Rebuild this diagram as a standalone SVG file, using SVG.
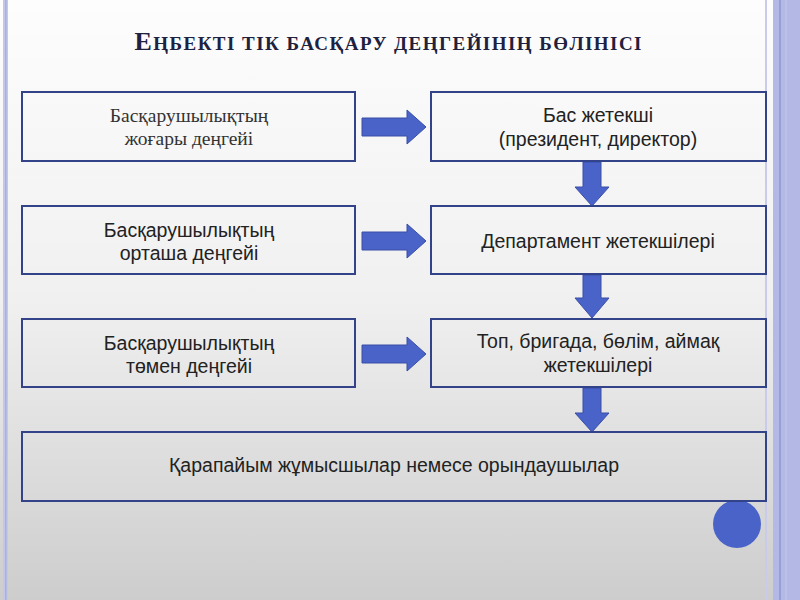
<svg xmlns="http://www.w3.org/2000/svg" width="800" height="600" viewBox="0 0 800 600">
<defs>
<linearGradient id="bg" x1="0" y1="0" x2="0" y2="1">
<stop offset="0" stop-color="#fdfdfd"/>
<stop offset="0.5" stop-color="#f0f0f0"/>
<stop offset="1" stop-color="#cdcdcd"/>
</linearGradient>
</defs>
<style>
.box{fill:none;stroke:#33438a;stroke-width:2}
.arr{fill:#4a63c8;stroke:#3a4fa6;stroke-width:1}
.serif{font-family:"Liberation Serif","Times New Roman",serif;font-size:19.5px;fill:#333;text-anchor:middle}
.sans{font-family:"Liberation Sans",Arial,sans-serif;font-size:19.5px;fill:#222;text-anchor:middle}
.title{font-family:"Liberation Serif","Times New Roman",serif;font-weight:bold;fill:#1e2240;text-anchor:middle}
</style>
<rect x="0" y="0" width="800" height="600" fill="url(#bg)"/>
<g id="decor">
<rect x="3" y="0" width="5" height="600" fill="#c3c7ea"/>
<rect x="5" y="0" width="1.5" height="600" fill="#a9afe0"/>
<rect x="765" y="0" width="2" height="600" fill="#c8cbea"/>
<rect x="773" y="0" width="27" height="600" fill="#b3b8e4"/>
<rect x="779" y="0" width="2" height="600" fill="#979ed8"/>
<rect x="785" y="0" width="2" height="600" fill="#bcc0e8"/>
<circle cx="737" cy="524" r="24" fill="#4a63c8"/>
</g>
<text class="title" x="388" y="50" textLength="507" lengthAdjust="spacing"><tspan font-size="26">Е</tspan><tspan font-size="19">ҢБЕКТІ ТІК БАСҚАРУ ДЕҢГЕЙІНІҢ БӨЛІНІСІ</tspan></text>
<g id="connectors">
<path class="arr" d="M362,118 H407 V110 L426,127 L407,144 V136 H362 Z"/>
<path class="arr" d="M362,232 H407 V224 L426,241 L407,258 V250 H362 Z"/>
<path class="arr" d="M362,345 H407 V337 L426,354 L407,371 V363 H362 Z"/>
<path class="arr" d="M583,162 V187 H575 L592,206 L609,187 H601 V162 Z"/>
<path class="arr" d="M583,275 V298 H575 L592,318 L609,298 H601 V275 Z"/>
<path class="arr" d="M583,388 V413 H575 L592,432 L609,413 H601 V388 Z"/>
</g>
<g id="left-top">
<rect class="box" x="22" y="92" width="333" height="69"/>
<text class="serif" x="189" y="122">Басқарушылықтың</text>
<text class="serif" x="189" y="145">жоғары деңгейі</text>
</g>
<g id="left-mid">
<rect class="box" x="22" y="206" width="333" height="68"/>
<text class="sans" x="189" y="237">Басқарушылықтың</text>
<text class="sans" x="189" y="260">орташа деңгейі</text>
</g>
<g id="left-low">
<rect class="box" x="22" y="319" width="333" height="68"/>
<text class="sans" x="189" y="350">Басқарушылықтың</text>
<text class="sans" x="189" y="373">төмен деңгейі</text>
</g>
<g id="right-top">
<rect class="box" x="431" y="92" width="335" height="69"/>
<text class="sans" x="598" y="122">Бас жетекші</text>
<text class="sans" x="598" y="146">(президент, директор)</text>
</g>
<g id="right-mid">
<rect class="box" x="431" y="206" width="335" height="68"/>
<text class="sans" x="598" y="248">Департамент жетекшілері</text>
</g>
<g id="right-low">
<rect class="box" x="431" y="319" width="335" height="68"/>
<text class="sans" x="598" y="348">Топ, бригада, бөлім, аймақ</text>
<text class="sans" x="598" y="372">жетекшілері</text>
</g>
<g id="bottom">
<rect class="box" x="22" y="432" width="744" height="69"/>
<text class="sans" x="394" y="472">Қарапайым жұмысшылар немесе орындаушылар</text>
</g>
</svg>
